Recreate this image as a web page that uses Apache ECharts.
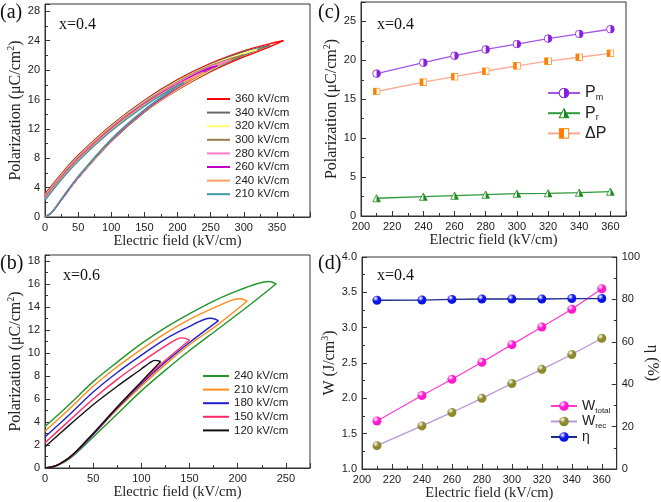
<!DOCTYPE html>
<html><head><meta charset="utf-8">
<script src="https://cdn.jsdelivr.net/npm/echarts@6/dist/echarts.min.js"></script>
<style>html,body{margin:0;padding:0;background:#fff}#c{width:661px;height:502px}</style>
</head><body><div id="c"></div>
<script>
// ---------- Panel (a): P-E loops, x=0.4 ----------
const labelsA = ['360 kV/cm','340 kV/cm','320 kV/cm','300 kV/cm','280 kV/cm','260 kV/cm','240 kV/cm','210 kV/cm'];
const a360Low = [[0,0],[10,0.6],[25,2.4],[50,5.3],[100,10.3],[150,14.3],[200,17.3],[250,19.8],[300,21.8],[340,23.2],[360,24.0]];
const a360Up  = [[360,24.0],[340,23.6],[300,22.6],[250,20.9],[200,18.7],[150,15.9],[100,12.5],[50,8.4],[25,5.9],[0,3.13]];
const a340Low = [[0,0],[10,0.6],[25,2.4],[50,5.3],[100,10.3],[150,14.3],[200,17.4],[250,19.9],[300,22.0],[340,23.4]];
const a340Up  = [[340,23.4],[300,22.5],[250,20.8],[200,18.6],[150,15.8],[100,12.4],[50,8.3],[25,5.8],[0,3.0]];
const a320Low = [[0,0],[10,0.6],[25,2.4],[50,5.3],[100,10.4],[150,14.4],[200,17.4],[250,20.0],[300,22.2],[320,22.8]];
const a320Up  = [[320,22.8],[300,22.3],[250,20.7],[200,18.5],[150,15.7],[100,12.3],[50,8.2],[25,5.7],[0,2.92]];
const a300Low = [[0,0],[10,0.6],[25,2.4],[50,5.4],[100,10.4],[150,14.4],[200,17.5],[250,20.1],[300,22.1]];
const a300Up  = [[300,22.1],[250,20.6],[200,18.4],[150,15.6],[100,12.2],[50,8.1],[25,5.6],[0,2.87]];
const a280Low = [[0,0],[10,0.6],[25,2.4],[50,5.4],[100,10.5],[150,14.5],[200,17.6],[250,20.2],[280,21.4]];
const a280Up  = [[280,21.4],[250,20.5],[200,18.3],[150,15.5],[100,12.1],[50,8.0],[25,5.5],[0,2.74]];
const a260Low = [[0,0],[10,0.6],[25,2.4],[50,5.4],[100,10.5],[150,14.5],[200,17.6],[240,19.8],[260,20.6]];
const a260Up  = [[260,20.6],[240,20.0],[200,18.1],[150,15.4],[100,12.0],[50,7.9],[25,5.4],[0,2.61]];
const a240Low = [[0,0],[10,0.6],[25,2.5],[50,5.5],[100,10.6],[150,14.6],[200,17.7],[240,19.7]];
const a240Up  = [[240,19.7],[200,18.0],[150,15.3],[100,11.9],[50,7.8],[25,5.3],[0,2.48]];
const a210Low = [[0,0],[10,0.6],[25,2.5],[50,5.5],[100,10.6],[150,14.6],[200,17.8],[210,18.3]];
const a210Up  = [[210,18.3],[200,17.9],[150,15.1],[100,11.7],[50,7.6],[25,5.1],[0,2.28]];

// ---------- Panel (b): P-E loops, x=0.6 ----------
const labelsB = ['240 kV/cm','210 kV/cm','180 kV/cm','150 kV/cm','120 kV/cm'];
const b240Low = [[0,0],[10,0.15],[20,0.5],[30,1.1],[50,2.7],[75,4.7],[100,6.7],[125,8.5],[150,10.2],[180,12.1],[210,14.0],[240,16.0]];
const b240Up  = [[240,16.0],[232,16.2],[220,16.0],[200,15.4],[175,14.5],[150,13.4],[125,12.2],[100,10.8],[75,9.2],[50,7.5],[25,5.5],[0,3.6]];
const b210Low = [[0,0],[10,0.15],[20,0.6],[30,1.2],[50,2.9],[75,5.1],[100,7.1],[125,9.0],[150,10.7],[180,12.5],[210,14.5]];
const b210Up  = [[210,14.5],[202,14.7],[195,14.6],[175,13.9],[150,12.9],[125,11.7],[100,10.3],[75,8.8],[50,7.1],[25,5.1],[0,3.2]];
const b180Low = [[0,0],[10,0.15],[20,0.6],[30,1.2],[50,2.9],[75,5.2],[100,7.3],[125,9.2],[150,10.9],[180,12.8]];
const b180Up  = [[180,12.8],[172,13.0],[165,12.9],[150,12.3],[125,11.2],[100,9.8],[75,8.3],[50,6.6],[25,4.6],[0,2.7]];
const b150Low = [[0,0],[10,0.15],[20,0.6],[30,1.25],[50,3.0],[75,5.3],[100,7.4],[120,9.0],[150,11.1]];
const b150Up  = [[150,11.1],[143,11.3],[137,11.2],[125,10.6],[100,9.2],[75,7.7],[50,6.0],[25,4.1],[0,2.2]];
const b120Low = [[0,0],[10,0.15],[20,0.6],[30,1.25],[50,3.0],[75,5.3],[100,7.5],[120,9.25]];
const b120Up  = [[120,9.25],[114,9.35],[108,9.1],[100,8.6],[75,7.1],[50,5.5],[25,3.7],[0,1.85]];

// ---------- Panel (c) and (d) ----------
const fieldCD = [210,240,260,280,300,320,340,360];
const Pm     = [18.3,19.7,20.6,21.4,22.1,22.8,23.4,24.0];
const Pr     = [2.28,2.48,2.61,2.74,2.87,2.92,3.00,3.13];
const dP     = [16.0,17.2,17.9,18.6,19.3,19.9,20.4,20.9];
const Wtotal = [1.68,2.04,2.27,2.51,2.76,3.01,3.26,3.55];
const Wrec   = [1.33,1.61,1.80,2.00,2.21,2.41,2.62,2.85];
const eta    = [79.6,79.7,80.0,80.2,80.2,80.2,80.4,80.4];

// ---------- build ----------
const colorsA = ['#ff0000','#6a6a6a','#ffff70','#9c7a4e','#ff80c8','#c000c8','#ffa060','#3a9aa8'];
const colorsB = ['#22962a','#ff8c1a','#2020d0','#ff2a6a','#111111'];
const loopsA = [[a360Low,a360Up],[a340Low,a340Up],[a320Low,a320Up],[a300Low,a300Up],[a280Low,a280Up],[a260Low,a260Up],[a240Low,a240Up],[a210Low,a210Up]];
const loopsB = [[b240Low,b240Up],[b210Low,b210Up],[b180Low,b180Up],[b150Low,b150Up],[b120Low,b120Up]];
const pair = (xs, ys) => xs.map((x,i)=>[x, ys[i]]);
const idA = labelsA.map(l => 'a:' + l);
const idB = labelsB.map(l => 'b:' + l);
const stripId = n => n.slice(2);

const SANS = 'Liberation Sans';
const SERIF = 'Liberation Serif';
const AX = '#333';

function svgUri(s){ return 'image://data:image/svg+xml;charset=utf-8,' + encodeURIComponent(s); }
const symPm = svgUri("<svg xmlns='http://www.w3.org/2000/svg' width='20' height='20'><circle cx='10' cy='10' r='8.6' fill='#fff' stroke='#8a1fe0' stroke-width='1.8'/><path d='M10 1.4 A8.6 8.6 0 0 1 10 18.6 Z' fill='#8a1fe0'/></svg>");
const symPr = svgUri("<svg xmlns='http://www.w3.org/2000/svg' width='20' height='20'><path d='M10 2 L18.5 18 L1.5 18 Z' fill='#fff' stroke='#1a8a1a' stroke-width='1.8'/><path d='M10 2 L18.5 18 L10 18 Z' fill='#1a8a1a'/></svg>");
const symDP = svgUri("<svg xmlns='http://www.w3.org/2000/svg' width='20' height='20'><rect x='1.5' y='1.5' width='17' height='17' fill='#fff' stroke='#ff8000' stroke-width='1.8'/><rect x='1.5' y='1.5' width='8.5' height='17' fill='#ff8000'/></svg>");
function ball(c){ return {type:'radial', x:0.35, y:0.3, r:0.75, colorStops:[{offset:0,color:'#ffffff'},{offset:0.45,color:c},{offset:1,color:c}]}; }

const tickLabel = {fontFamily:SANS, fontSize:11, color:'#222', margin:5, showMaxLabel:false};
function axisCommon(extra){
  return Object.assign({
    axisLine:{show:true, lineStyle:{color:AX, width:1}},
    axisTick:{show:true, inside:true, length:5, lineStyle:{color:AX}},
    minorTick:{show:true, splitNumber:2, length:3, lineStyle:{color:AX}},
    splitLine:{show:false},
    axisLabel:tickLabel,
    nameTextStyle:{fontFamily:SERIF, fontSize:14.5, fontWeight:'normal', color:'#222', textBorderWidth:0}
  }, extra);
}
const polName = '{n|Polarization (μC/cm}{s|2}{n|)}';
const nameRich = {n:{fontFamily:SERIF, fontSize:16, fontWeight:'normal', color:'#222'}, s:{fontFamily:SERIF, fontSize:10, fontWeight:'normal', color:'#222', verticalAlign:'top', padding:[0,0,8,0]}};
const richName = {fontWeight:'normal', textBorderWidth:0, rich:nameRich};

const series = [];
loopsA.forEach((lp, i) => {
  lp.forEach(br => series.push({type:'line', name:idA[i], xAxisIndex:0, yAxisIndex:0, data:br, symbol:'none', smooth:0.35, lineStyle:{width:1.4, color:colorsA[i]}, itemStyle:{color:colorsA[i]}, z:2+i}));
});
loopsB.forEach((lp, i) => {
  lp.forEach(br => series.push({type:'line', name:idB[i], xAxisIndex:2, yAxisIndex:2, data:br, symbol:'none', smooth:0.35, lineStyle:{width:1.4, color:colorsB[i]}, itemStyle:{color:colorsB[i]}, z:2+i}));
});
series.push({type:'line', name:'Pm', xAxisIndex:1, yAxisIndex:1, data:pair(fieldCD,Pm), symbol:symPm, symbolSize:9, lineStyle:{width:1.3, color:'#a455e6'}, itemStyle:{color:'#8a1fe0'}});
series.push({type:'line', name:'Pr', xAxisIndex:1, yAxisIndex:1, data:pair(fieldCD,Pr), symbol:symPr, symbolSize:9, lineStyle:{width:1.3, color:'#2e9a3a'}, itemStyle:{color:'#1a8a1a'}});
series.push({type:'line', name:'ΔP', xAxisIndex:1, yAxisIndex:1, data:pair(fieldCD,dP), symbol:symDP, symbolSize:8, lineStyle:{width:1.3, color:'#ffa898'}, itemStyle:{color:'#ff8000'}});
series.push({type:'line', name:'Wtotal', xAxisIndex:3, yAxisIndex:3, data:pair(fieldCD,Wtotal), symbol:'circle', symbolSize:9, lineStyle:{width:1.3, color:'#ff3ccf'}, itemStyle:{color:ball('#ff1ad0')}});
series.push({type:'line', name:'Wrec', xAxisIndex:3, yAxisIndex:3, data:pair(fieldCD,Wrec), symbol:'circle', symbolSize:9, lineStyle:{width:1.3, color:'#b896d8'}, itemStyle:{color:ball('#8c8a2c')}});
series.push({type:'line', name:'η', xAxisIndex:3, yAxisIndex:4, data:pair(fieldCD,eta), symbol:'circle', symbolSize:9, lineStyle:{width:1.3, color:'#1a2a8c'}, itemStyle:{color:ball('#0a14e6')}});

const legText = {fontFamily:SANS, fontSize:11.5, color:'#222'};
const subRichC = {
  p:{fontFamily:SANS, fontSize:16, color:'#222', lineHeight:18},
  sub:{fontFamily:SANS, fontSize:9, color:'#222', lineHeight:18, verticalAlign:'bottom', padding:[6,0,0,0]}
};
const subRichD = {
  w:{fontFamily:SANS, fontSize:14, color:'#222', lineHeight:17},
  sub:{fontFamily:SANS, fontSize:8, color:'#222', lineHeight:17, verticalAlign:'bottom', padding:[6,0,0,0]}
};

const option = {
  animation:false,
  grid:[
    {left:45, top:4, width:265, height:213, show:true, borderColor:AX, borderWidth:1},
    {left:361, top:2, width:265, height:214, show:true, borderColor:AX, borderWidth:1},
    {left:45, top:255, width:265, height:213, show:true, borderColor:AX, borderWidth:1},
    {left:362, top:257, width:264, height:212, show:true, borderColor:AX, borderWidth:1}
  ],
  xAxis:[
    axisCommon({gridIndex:0, type:'value', min:0, max:400, interval:50, name:'Electric field (kV/cm)', nameLocation:'middle', nameGap:15}),
    axisCommon({gridIndex:1, type:'value', min:200, max:370, interval:20, name:'Electric field (kV/cm)', nameLocation:'middle', nameGap:15}),
    axisCommon({gridIndex:2, type:'value', min:0, max:275, interval:50, name:'Electric field (kV/cm)', nameLocation:'middle', nameGap:15}),
    axisCommon({gridIndex:3, type:'value', min:200, max:370, interval:20, name:'Electric field (kV/cm)', nameLocation:'middle', nameGap:15})
  ],
  yAxis:[
    axisCommon({gridIndex:0, type:'value', min:0, max:29, interval:4, name:polName, nameLocation:'middle', nameGap:12, nameTextStyle:richName}),
    axisCommon({gridIndex:1, type:'value', min:0, max:27.5, interval:5, name:polName, nameLocation:'middle', nameGap:12, nameTextStyle:richName}),
    axisCommon({gridIndex:2, type:'value', min:0, max:18.5, interval:2, name:polName, nameLocation:'middle', nameGap:12, nameTextStyle:richName}),
    axisCommon({gridIndex:3, type:'value', min:1, max:4, interval:0.5, name:'{n|W (J/cm}{s|3}{n|)}', nameLocation:'middle', nameGap:11, nameTextStyle:richName,
      axisLabel:Object.assign({}, tickLabel, {formatter:v=>v.toFixed(1), showMaxLabel:true})}),
    axisCommon({gridIndex:3, type:'value', position:'right', min:0, max:100, interval:20, name:'η (%)', nameLocation:'middle', nameGap:22, nameRotate:-90,
      nameTextStyle:{fontFamily:SERIF, fontSize:16, fontWeight:'normal', color:'#222'},
      axisLabel:Object.assign({}, tickLabel, {showMaxLabel:true})})
  ],
  legend:[
    {data:idA, formatter:stripId, orient:'vertical', left:202, top:88, itemWidth:23, itemHeight:2, itemGap:1.6, textStyle:legText, icon:'rect', selectedMode:false},
    {data:idB, formatter:stripId, orient:'vertical', left:198, top:365, itemWidth:26, itemHeight:2, itemGap:1.6, textStyle:legText, icon:'rect', selectedMode:false},
    {data:['Pm','Pr','ΔP'], orient:'vertical', left:542, top:80, itemWidth:32, itemHeight:14, itemGap:3.2, textStyle:{rich:subRichC},
      formatter:n=> n==='Pm' ? '{p|P}{sub|m}' : n==='Pr' ? '{p|P}{sub|r}' : '{p|ΔP}', selectedMode:false},
    {data:['Wtotal','Wrec','η'], orient:'vertical', left:545, top:394, itemWidth:26, itemHeight:12, itemGap:0, textStyle:{rich:subRichD},
      formatter:n=> n==='Wtotal' ? '{w|W}{sub|total}' : n==='Wrec' ? '{w|W}{sub|rec}' : '{w|η}', selectedMode:false}
  ],
  graphic:[
    {type:'text', left:0, top:3, style:{text:'(a)', font:'20px "Liberation Serif"', fill:'#111'}},
    {type:'text', left:318, top:3, style:{text:'(c)', font:'20px "Liberation Serif"', fill:'#111'}},
    {type:'text', left:0, top:254, style:{text:'(b)', font:'20px "Liberation Serif"', fill:'#111'}},
    {type:'text', left:318, top:254, style:{text:'(d)', font:'20px "Liberation Serif"', fill:'#111'}},
    {type:'text', left:59, top:17, style:{text:'x=0.4', font:'16px "Liberation Serif"', fill:'#111'}},
    {type:'text', left:377, top:17, style:{text:'x=0.4', font:'16px "Liberation Serif"', fill:'#111'}},
    {type:'text', left:63, top:268, style:{text:'x=0.6', font:'16px "Liberation Serif"', fill:'#111'}},
    {type:'text', left:377, top:268, style:{text:'x=0.4', font:'16px "Liberation Serif"', fill:'#111'}}
  ],
  series:series
};
const chart = echarts.init(document.getElementById('c'), null, {renderer:'canvas'});
chart.setOption(option);
</script></body></html>
